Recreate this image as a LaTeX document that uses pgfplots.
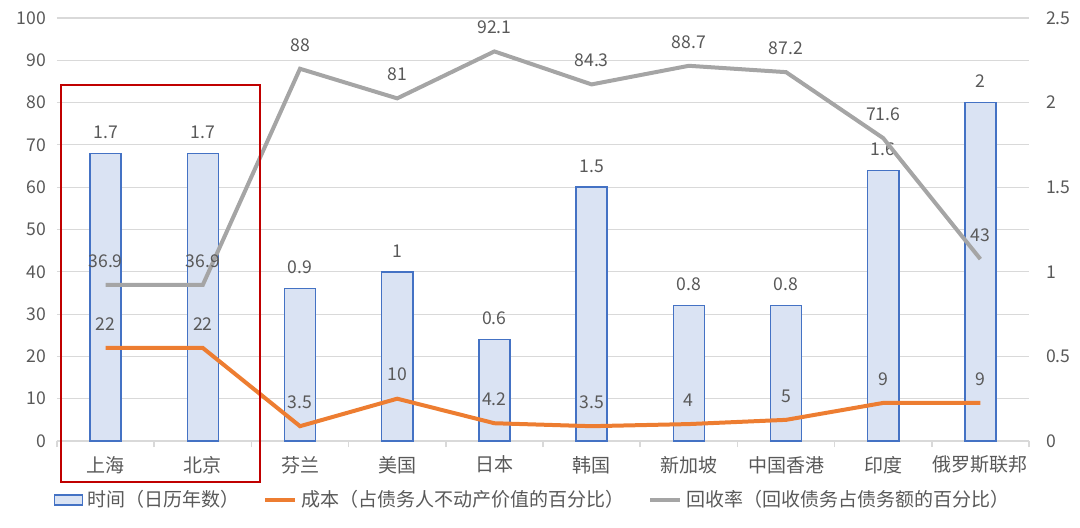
\documentclass[border=0pt]{standalone}
\usepackage{pgfplots}
\pgfplotsset{compat=1.18}
\usepackage{fontspec}
\setmainfont{Noto Sans CJK SC}
\definecolor{txt}{HTML}{595959}
\definecolor{gridc}{HTML}{D9D9D9}
\definecolor{barfill}{HTML}{DAE3F3}
\definecolor{barline}{HTML}{4472C4}
\definecolor{orangec}{HTML}{ED7D31}
\definecolor{grayc}{HTML}{A5A5A5}
\definecolor{redc}{HTML}{C00000}
\pgfplotsset{
  base/.style={scale only axis, width=486bp, height=211.5bp,
    xmin=-0.5, xmax=9.5, ymin=0,
    /pgf/number format/assume math mode=true,
    tick label style={text=txt, font=\fontsize{8.8bp}{10.5bp}\selectfont},
  },
}
\begin{document}
\begin{tikzpicture}[font=\fontsize{8.8bp}{10.5bp}\selectfont]
\useasboundingbox (-28.5bp,-43.5bp) rectangle (511.5bp,220.5bp);
% frame axis: left ticks, grid, categories
\begin{axis}[base, ymax=100,
  axis x line*=bottom, axis y line*=left,
  x axis line style={-, draw=gridc, line width=0.75bp},
  y axis line style={draw=none},
  ytick={0,10,...,100}, ytick style={draw=none},
  ymajorgrids, grid style={draw=gridc, line width=0.6bp},
  yticklabel style={xshift=-2bp},
  xtick={0,...,9},
  xticklabels={上海,北京,芬兰,美国,日本,韩国,新加坡,中国香港,印度,俄罗斯联邦},
  xtick style={draw=none},
  xticklabel style={yshift=-4bp, font=\fontsize{9.5bp}{11bp}\selectfont},
  extra x ticks={-0.5,0.5,...,9.5}, extra x tick labels={},
  extra x tick style={major tick length=3bp, tick align=outside, xtick style={draw=gridc, line width=0.75bp}, grid=none},
]
\addplot[draw=none] coordinates {(0,0)};
\end{axis}
% bars on right axis
\begin{axis}[base, ymax=2.5,
  axis x line=none, axis y line*=right,
  y axis line style={draw=none},
  ytick={0,0.5,...,2.5}, ytick style={draw=none},
  yticklabel style={anchor=west, xshift=5bp},
]
\addplot[ybar, bar width=0.32, fill=barfill, draw=barline, line width=0.75bp,
  nodes near coords, point meta=y,
  nodes near coords style={text=txt, anchor=center, yshift=10.5bp, font=\fontsize{8.8bp}{10.5bp}\selectfont, /pgf/number format/assume math mode=true}]
  coordinates {(0,1.7) (1,1.7) (2,0.9) (3,1) (4,0.6) (5,1.5) (6,0.8) (7,0.8) (8,1.6) (9,2)};
\end{axis}
% lines on left scale
\begin{axis}[base, ymax=100, hide axis, clip=false,
  legend columns=3,
  legend style={at={(0.49,-0.14)}, anchor=center, draw=none, fill=none,
    text=txt, font=\fontsize{9.5bp}{11bp}\selectfont,
    /tikz/every even column/.append style={column sep=10bp},
    inner sep=0pt, row sep=0pt},
  legend cell align=left,
]
\addlegendimage{legend image code/.code={\draw[fill=barfill, draw=barline, line width=0.75bp] (0bp,-2.5bp) rectangle (14bp,2.5bp);}}
\addlegendentry{时间（日历年数）}
\addplot[orangec, line width=2bp, mark=none,
  legend image code/.code={\draw[orangec, line width=2bp] (0bp,0bp) -- (15bp,0bp);},
  nodes near coords, point meta=y,
  nodes near coords style={text=txt, anchor=center, yshift=12bp, font=\fontsize{8.8bp}{10.5bp}\selectfont, /pgf/number format/assume math mode=true}]
  coordinates {(0,22) (1,22) (2,3.5) (3,10) (4,4.2) (5,3.5) (6,4) (7,5) (8,9) (9,9)};
\addlegendentry{成本（占债务人不动产价值的百分比）}
\addplot[grayc, line width=2bp, mark=none,
  legend image code/.code={\draw[grayc, line width=2bp] (0bp,0bp) -- (15bp,0bp);},
  nodes near coords, point meta=y,
  nodes near coords style={text=txt, anchor=center, yshift=12bp, font=\fontsize{8.8bp}{10.5bp}\selectfont, /pgf/number format/assume math mode=true}]
  coordinates {(0,36.9) (1,36.9) (2,88) (3,81) (4,92.1) (5,84.3) (6,88.7) (7,87.2) (8,71.6) (9,43)};
\addlegendentry{回收率（回收债务占债务额的百分比）}
\draw[redc, line width=0.9bp] (axis cs:-0.459,84.2) rectangle (axis cs:1.588,-9.7);
\end{axis}
\end{tikzpicture}
\end{document}
